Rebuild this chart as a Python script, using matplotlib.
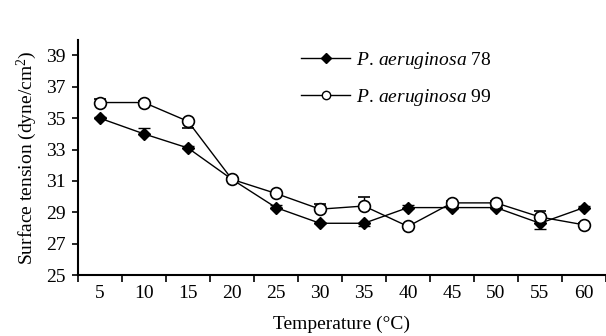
import numpy as np
import matplotlib
matplotlib.use("Agg")
import matplotlib.pyplot as plt
from matplotlib.lines import Line2D

# -------------------
# Data
# -------------------
temps = [5, 10, 15, 20, 25, 30, 35, 40, 45, 50, 55, 60]
st_78 = [35.0, 34.0, 33.1, 31.1, 29.3, 28.3, 28.3, 29.3, 29.3, 29.3, 28.3, 29.3]
err_78_low = [0.0, 0.0, 0.0, 0.0, 0.0, 0.0, 0.2, 0.0, 0.0, 0.0, 0.35, 0.0]
err_78_up = [0.1, 0.4, 0.1, 0.15, 0.15, 0.0, 0.0, 0.15, 0.1, 0.1, 0.0, 0.1]
st_99 = [36.0, 36.0, 34.8, 31.1, 30.2, 29.2, 29.4, 28.1, 29.6, 29.6, 28.7, 28.2]
err_99_low = [0.0, 0.0, 0.4, 0.0, 0.0, 0.0, 0.0, 0.0, 0.0, 0.0, 0.0, 0.0]
err_99_up = [0.2, 0.1, 0.0, 0.1, 0.1, 0.35, 0.6, 0.1, 0.1, 0.1, 0.4, 0.1]
strains = ["P. aeruginosa", "P. aeruginosa"]
strain_ids = ["78", "99"]

plt.rcParams["font.family"] = ["Liberation Serif", "DejaVu Serif"]
plt.rcParams["mathtext.fontset"] = "custom"
plt.rcParams["mathtext.rm"] = "Liberation Serif"
plt.rcParams["mathtext.it"] = "Liberation Serif:italic"

FS = 14

fig = plt.figure(figsize=(6.06, 3.36), dpi=100)
ax = fig.add_axes([0.1287, 0.1815, 0.8713, 0.70])

x = np.arange(len(temps))
ax.errorbar(x, st_78, yerr=[err_78_low, err_78_up], color="black", lw=1.0,
            marker="D", ms=6, mfc="black", mec="black", capsize=4, elinewidth=1.0,
            capthick=1.0, zorder=3)
ax.errorbar(x, st_99, yerr=[err_99_low, err_99_up], color="black", lw=1.0,
            marker="o", ms=8.5, mfc="white", mec="black", mew=1.2, capsize=4,
            elinewidth=1.0, capthick=1.0, zorder=4)

ax.set_xlim(-0.5, 11.4)
ax.set_ylim(25, 40)
ax.set_yticks([25, 27, 29, 31, 33, 35, 37, 39])
ax.set_xticks(x)
ax.set_xticklabels([str(t) for t in temps])
ax.set_xticks(np.arange(-0.5, 12, 1), minor=True)
ax.tick_params(axis="x", which="major", length=0, pad=7, labelsize=FS)
ax.tick_params(axis="x", which="minor", length=5, width=1.2, direction="out")
ax.tick_params(axis="y", length=4, width=1.2, direction="out", labelsize=FS, pad=5)

for side in ["top", "right"]:
    ax.spines[side].set_visible(False)
for side in ["left", "bottom"]:
    ax.spines[side].set_linewidth(1.5)

ax.set_xlabel("Temperature (°C)", fontsize=FS, labelpad=10)
ax.set_ylabel("Surface tension (dyne/cm$^2$)", fontsize=FS, labelpad=5)

# legend: line with marker in the middle, italic species name
h78 = Line2D([], [], color="black", lw=1.0, marker="D", ms=5, mfc="black")
h99 = Line2D([], [], color="black", lw=1.0, marker="o", ms=6, mfc="white")
leg_labels = ["$\\it{" + s.replace(" ", "\\,") + "}$ " + n for s, n in zip(strains, strain_ids)]
ax.legend([h78, h99], leg_labels, loc="upper left", bbox_to_anchor=(0.39, 1.03),
          frameon=False, handlelength=2.5, handletextpad=0.3, labelspacing=0.8,
          fontsize=FS)

fig.savefig("out.png", dpi=100, facecolor="white")
